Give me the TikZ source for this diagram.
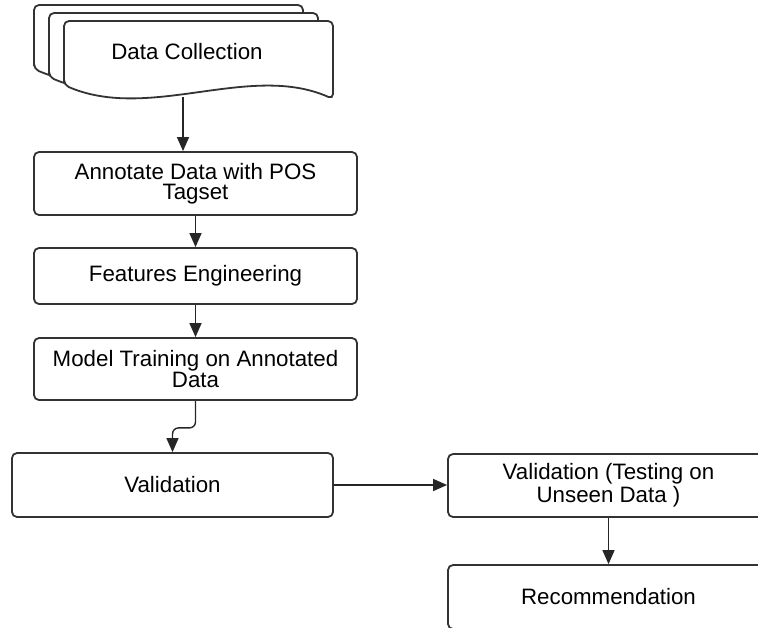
\documentclass[tikz,border=0pt]{standalone}
\usepackage{fontspec}
\setmainfont{Liberation Sans}
\usetikzlibrary{arrows.meta, positioning}

\begin{document}
\begin{tikzpicture}[x=0.5pt, y=-0.5pt,
      font=\fontsize{11.15}{10.2}\selectfont,
      box/.style={draw=black!80, line width=0.9pt, rounded corners=2.5pt,
        align=center, minimum width=161.5pt, inner sep=0pt},
      sheet/.style={draw=black!80, line width=0.9pt, fill=white, rounded corners=2.5pt},
      arr/.style={draw=black!85, line width=0.7pt, -{Triangle[length=7pt,width=6pt]}}]
      \useasboundingbox (0,0) rectangle (758,627);
      % stacked sheets
      \foreach \s in {30,15,0}
        \draw[sheet, shift={(-\s,-\s*8/15)}] (64,85) -- (64,21) -- (333,21) -- (333,99)
          .. controls (250,62) and (150,122) .. (64,85) -- cycle;
      \node (datacol) at (187,52) {Data Collection};
      \coordinate (dcbot) at (183,97);
      \node[box, minimum height=31.5pt] (annot) at (195.5,183.5) {Annotate Data with POS\\Tagset};
      \node[box, minimum height=28pt] (feat) at (195.5,276) {Features Engineering};
      \node[box, minimum height=31pt] (model) at (195.5,369) {Model Training on Annotated\\Data};
      \node[box, minimum width=160.5pt, minimum height=32pt] (valid) at (172.5,485) {Validation};
      \node[box, minimum width=160.5pt, minimum height=31.5pt] (test) at (608.5,485.5) {Validation (Testing on\\Unseen Data )};
      \node[box, minimum width=160.5pt, minimum height=32pt] (recom) at (608.5,597) {Recommendation};
      \draw[arr] (dcbot) -- (dcbot |- annot.north);
      \draw[arr] (annot) -- (feat);
      \draw[arr] (feat) -- (model);
      \draw[arr, rounded corners=3pt] (model.south) -- ++(0,27) -| (valid.north);
      \draw[arr] (valid.east) -- (valid.east -| test.west);
      \draw[arr] (test) -- (recom);
      % \draw[arr] (model) -- (valid);
\end{tikzpicture}
\end{document}
